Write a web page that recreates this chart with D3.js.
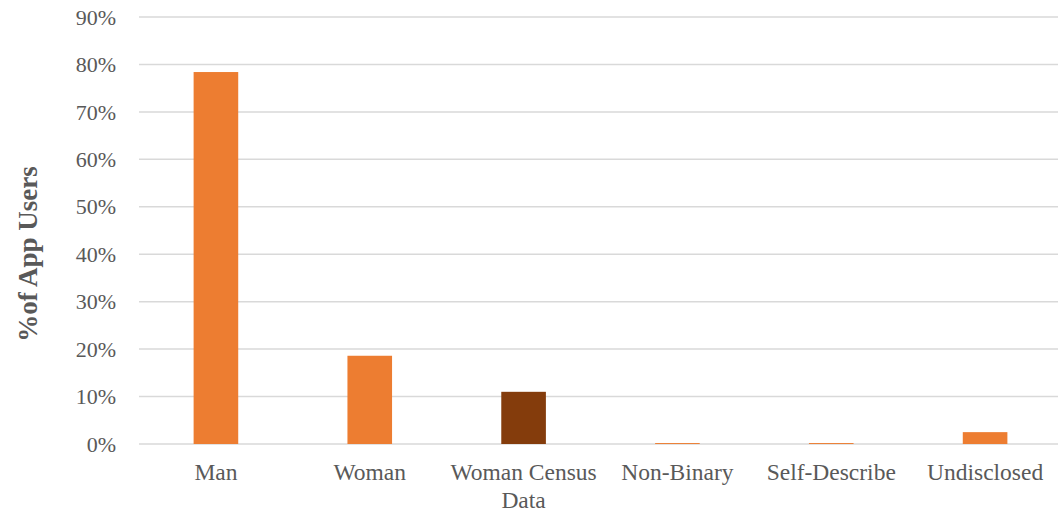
<!DOCTYPE html>
<html>
<head>
<meta charset="utf-8">
<script src="https://cdn.jsdelivr.net/npm/d3@7"></script>
<style>
  body { margin: 0; background: #fff; }
  svg text { font-family: "Liberation Serif", "Times New Roman", serif; fill: #595959; }
</style>
</head>
<body>
<svg id="chart" width="1058" height="514"></svg>
<script>
const categories = ["Man", "Woman", "Woman Census Data", "Non-Binary", "Self-Describe", "Undisclosed"];
const values = [78.4, 18.6, 11.0, 0.2, 0.2, 2.5];
const barColors = ["#ED7D31", "#ED7D31", "#843C0C", "#ED7D31", "#ED7D31", "#ED7D31"];
const yTicks = [0, 10, 20, 30, 40, 50, 60, 70, 80, 90];

const svg = d3.select("#chart");
const margin = { left: 139, right: -4, top: 17, bottom: 70 };
const W = 1058, H = 514;

const x = d3.scaleBand()
  .domain(categories)
  .range([margin.left, W - margin.right])
  .paddingInner(0.71)
  .paddingOuter(0.355);

const y = d3.scaleLinear().domain([0, 90]).range([444, margin.top]);

// gridlines
svg.append("g").selectAll("line").data(yTicks).join("line")
  .attr("x1", margin.left).attr("x2", W)
  .attr("y1", d => y(d)).attr("y2", d => y(d))
  .attr("stroke", "#D9D9D9").attr("stroke-width", 1.5);

// y tick labels
svg.append("g").selectAll("text").data(yTicks).join("text")
  .attr("x", 116).attr("y", d => y(d))
  .attr("dy", "0.35em")
  .attr("text-anchor", "end")
  .style("font-size", "22px")
  .text(d => d + "%");

// bars
svg.append("g").selectAll("rect").data(categories).join("rect")
  .attr("x", d => x(d))
  .attr("width", x.bandwidth())
  .attr("y", (d, i) => y(values[i]))
  .attr("height", (d, i) => y(0) - y(values[i]))
  .attr("fill", (d, i) => barColors[i]);

// category labels (wrap long one)
const labels = svg.append("g").selectAll("text").data(categories).join("text")
  .attr("x", d => x(d) + x.bandwidth() / 2)
  .attr("y", 480)
  .attr("text-anchor", "middle")
  .style("font-size", "23.5px");
labels.each(function (d) {
  const lines = d === "Woman Census Data" ? ["Woman Census", "Data"] : [d];
  d3.select(this).selectAll("tspan").data(lines).join("tspan")
    .attr("x", x(d) + x.bandwidth() / 2)
    .attr("dy", (l, i) => i ? 28 : 0)
    .text(l => l);
});

// y axis title
svg.append("text")
  .attr("transform", "translate(37,254) rotate(-90)")
  .attr("text-anchor", "middle")
  .style("font-size", "27px")
  .style("font-weight", "bold")
  .text("%of App Users");
</script>
</body>
</html>
